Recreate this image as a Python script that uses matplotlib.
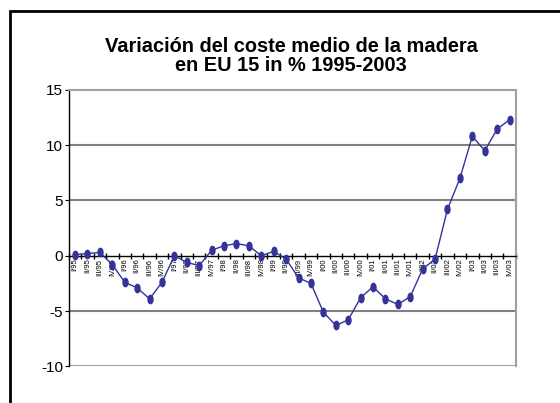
import numpy as np
import matplotlib
matplotlib.use("Agg")
import matplotlib.pyplot as plt
from matplotlib.path import Path
from matplotlib.transforms import Affine2D
from matplotlib.patches import Rectangle

plt.rcParams['font.family'] = ['Liberation Sans', 'DejaVu Sans']

quarters = ['I', 'II', 'III', 'IV']
years = ['95', '96', '97', '98', '99', '00', '01', '02', '03']
labels = [f"{q}/{y}" for y in years for q in quarters]

values = [0.1, 0.2, 0.3, -0.8, -2.4, -2.9, -3.9, -2.4,
          0.0, -0.6, -0.9, 0.5, 0.9, 1.1, 0.9, 0.0,
          0.4, -0.3, -2.0, -2.5, -5.1, -6.3, -5.8, -3.8,
          -2.8, -3.9, -4.4, -3.7, -1.2, -0.3, 4.2, 7.0,
          10.8, 9.5, 11.45, 12.3]

title = "Variación del coste medio de la madera\nen EU 15 in % 1995-2003"

fig = plt.figure(figsize=(5.6, 4.03), dpi=100)
ax = fig.add_axes([0.123, 0.091, 0.798, 0.686])

# outer chart frame (cut off on the right and bottom)
fig.patches.append(Rectangle((10 / 560, -0.2), 2.0, 0.2 + (403 - 11) / 403,
                             transform=fig.transFigure, fill=False,
                             edgecolor='black', linewidth=2))

x = np.arange(len(values))
ell = Path.unit_circle().transformed(Affine2D().scale(0.6, 1.0))
ax.plot(x, values, color='#333399', lw=1, marker=ell, markersize=6,
        markerfacecolor='#333399', markeredgecolor='#333399', zorder=3)

ax.set_xlim(-0.5, len(values) - 0.5)
ax.set_ylim(-10, 15)
ax.set_yticks([-10, -5, 0, 5, 10, 15])
ax.set_yticklabels(['-10', '-5', '0', '5', '10', '15'])

for yv in [5, 10, -5]:
    ax.axhline(yv, color='#808080', lw=1.5, zorder=1)
ax.axhline(-10, color='#a0a0a0', lw=1.5, zorder=1)

ax.spines['top'].set_color('#a0a0a0')
ax.spines['top'].set_linewidth(1.5)
ax.spines['right'].set_color('#a0a0a0')
ax.spines['right'].set_linewidth(1.5)
ax.spines['left'].set_color('black')
ax.spines['left'].set_linewidth(1)
ax.spines['bottom'].set_position(('data', 0))
ax.spines['bottom'].set_color('black')
ax.spines['bottom'].set_linewidth(1)

ax.set_xticks(x)
ax.set_xticklabels(labels, rotation=90, fontsize=5.5, va='top')
ax.tick_params(axis='x', which='major', length=0, pad=2)
ax.set_xticks(np.arange(len(values) + 1) - 0.5, minor=True)
ax.tick_params(axis='x', which='minor', length=4, direction='inout', width=1)
ax.tick_params(axis='y', length=3, labelsize=11, pad=1)

fig.text(0.52, 0.862, title, ha='center', va='center',
         fontsize=14.4, fontweight='bold', linespacing=1.0)

fig.savefig('out.png', dpi=100)
